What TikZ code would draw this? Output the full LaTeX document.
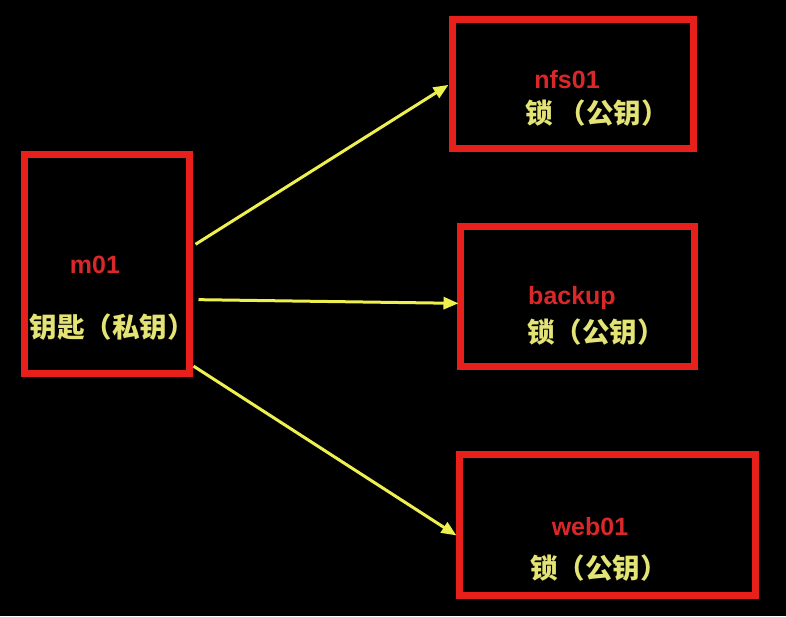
\documentclass[tikz,border=0pt]{standalone}
\usepackage{fontspec}
\setmainfont{Liberation Sans}
\newfontfamily\cjk{Noto Sans CJK SC}
\usetikzlibrary{calc,arrows.meta}
\definecolor{boxred}{HTML}{E8201C}
\definecolor{txtred}{HTML}{D8282A}
\definecolor{txtyel}{HTML}{E4E476}
\definecolor{arryel}{HTML}{EEF050}
\tikzset{
  hostbox/.style={draw=boxred, line width=7pt, rectangle, inner sep=0pt},
  hostname/.style={text=txtred, font=\fontsize{25}{25}\selectfont\bfseries, anchor=base, inner sep=0pt},
  keytext/.style={text=txtyel, font=\cjk\fontsize{27.5}{27.5}\selectfont\bfseries, inner sep=0pt},
  link/.style={draw=arryel, line width=3pt, -{Triangle[length=15pt,width=12pt]}}
}
\begin{document}
\begin{tikzpicture}[x=1pt,y=-1pt]
\fill[black] (0,0) rectangle (786,616);
\useasboundingbox (0,0) rectangle (786,616);
% boxes
\node[hostbox, minimum width=165pt, minimum height=219pt] (m01) at (106.5,263.5) {};
\node[hostbox, minimum width=241pt, minimum height=129pt] (nfs) at (572.5,83.5) {};
\node[hostbox, minimum width=234pt, minimum height=140pt] (backup) at (577,296) {};
\node[hostbox, minimum width=296pt, minimum height=141pt] (web) at (607,524.5) {};
% texts
\node[hostname] (m01name) at (95,273) {m01};
\node[keytext] (m01key) at (112,327) {钥匙（私钥）};
\node[hostname] (nfsname) at (567,88) {nfs01};
\node[keytext] (nfskey) at (597,113) {锁 （公钥）};
\node[hostname] (backupname) at (572,304) {backup};
\node[keytext] (backupkey) at (596,332) {锁（公钥）};
\node[hostname] (webname) at (590,535) {web01};
\node[keytext] (webkey) at (599,568) {锁（公钥）};
% connectors
\coordinate (s1) at ($(m01.north east)!0.415!(m01.south east)$);
\coordinate (s2) at ($(m01.north east)!0.66!(m01.south east)$);
\coordinate (s3) at ($(m01.north east)!0.954!(m01.south east)$);
\coordinate (e1) at ($(nfs.north west)!0.51!(nfs.south west)$);
\coordinate (e2) at ($(backup.north west)!0.55!(backup.south west)$);
\coordinate (e3) at ($(web.north west)!0.574!(web.south west)$);
\draw[link] ([xshift=3pt]s1) -- ([xshift=0pt]e1);
\draw[link] ([xshift=6pt]s2) -- ([xshift=2pt]e2);
\draw[link] ([xshift=1pt]s3) -- ([xshift=1pt]e3);
\end{tikzpicture}
\end{document}
